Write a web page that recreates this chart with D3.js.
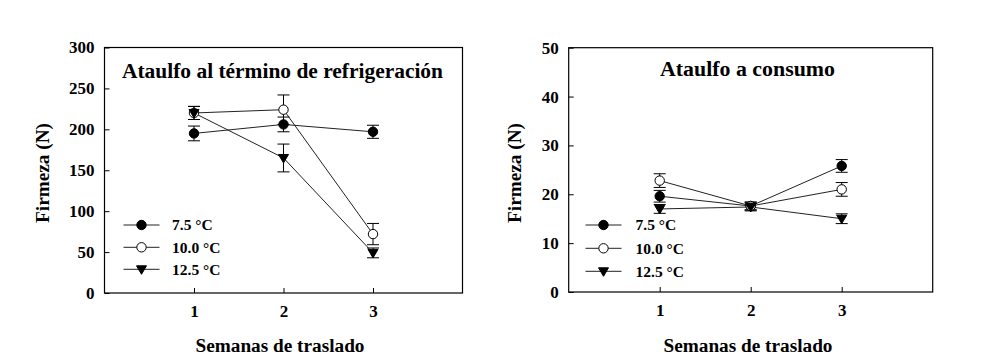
<!DOCTYPE html>
<html><head><meta charset="utf-8">
<script src="https://cdn.jsdelivr.net/npm/d3@7"></script>
<style>
html,body{margin:0;padding:0;background:#fff;}
svg{display:block;}
text{font-family:"Liberation Serif","Times New Roman",serif;font-weight:bold;fill:#000;}
</style></head>
<body>
<svg id="chart" width="984" height="357"></svg>
<script>
// ---- data ----
const weeks = [1, 2, 3];
const xTickLabels = ["1", "2", "3"];
const seriesNames = ["7.5 °C", "10.0 °C", "12.5 °C"];
const seriesMarkers = ["filled", "open", "triangle"];

// Left panel: Ataulfo al término de refrigeración
const leftTitle = "Ataulfo al término de refrigeración";
const leftYTicks = [0, 50, 100, 150, 200, 250, 300];
const left75 = [195, 206, 197];
const left75Err = [9, 9, 8];
const left10 = [220, 224, 72];
const left10Err = [8, 18, 13];
const left125 = [220, 165, 49];
const left125Err = [8, 17, 6];

// Right panel: Ataulfo a consumo
const rightTitle = "Ataulfo a consumo";
const rightYTicks = [0, 10, 20, 30, 40, 50];
const right75 = [19.6, 17.6, 25.8];
const right75Err = [1.2, 0.8, 1.3];
const right10 = [22.8, 17.6, 21.0];
const right10Err = [1.4, 0.8, 1.4];
const right125 = [17.0, 17.4, 15.0];
const right125Err = [0.9, 0.8, 1.0];

const yTitle = "Firmeza (N)";
const xTitle = "Semanas de traslado";

const svg = d3.select("#chart");

function drawPanel(cfg) {
  const x = d3.scaleLinear().domain([0, 4]).range([cfg.x0, cfg.x1]);
  const y = d3.scaleLinear().domain([0, cfg.yMax]).range([cfg.yBottom, cfg.yTop]);
  const g = svg.append("g");

  // axes (ticks inward)
  const ya = g.append("g").attr("transform", `translate(${cfg.x0},0)`)
    .call(d3.axisLeft(y).tickValues(cfg.yTicks).tickSize(-5).tickPadding(10));
  const xa = g.append("g").attr("transform", `translate(0,${cfg.yBottom})`)
    .call(d3.axisBottom(x).tickValues(weeks).tickFormat((d, i) => xTickLabels[i]).tickSize(-5).tickPadding(12));
  [ya, xa].forEach(a => {
    a.select(".domain").remove();
    a.selectAll(".tick line").attr("stroke", "#000").attr("stroke-width", 1);
    a.selectAll("text").attr("font-family", "Liberation Serif").attr("font-weight", "bold")
      .attr("font-size", 17).attr("fill", "#000");
  });

  // frame
  g.append("rect").attr("x", cfg.x0).attr("y", cfg.yTop)
    .attr("width", cfg.x1 - cfg.x0).attr("height", cfg.yBottom - cfg.yTop)
    .attr("fill", "none").attr("stroke", "#000").attr("stroke-width", 1.2);

  // title
  g.append("text").attr("x", cfg.titleX).attr("y", cfg.titleY)
    .attr("text-anchor", "middle").attr("font-size", 20)
    .attr("textLength", cfg.titleLen).attr("lengthAdjust", "spacingAndGlyphs")
    .text(cfg.title);

  // axis titles
  g.append("text").attr("x", cfg.xTitleX).attr("y", 352)
    .attr("text-anchor", "middle").attr("font-size", 18)
    .attr("textLength", 169).attr("lengthAdjust", "spacingAndGlyphs")
    .text(xTitle);
  g.append("text").attr("transform", `translate(${cfg.yTitleX},173) rotate(-90)`)
    .attr("text-anchor", "middle").attr("font-size", 18)
    .attr("textLength", 100).attr("lengthAdjust", "spacingAndGlyphs")
    .text(yTitle);

  const line = d3.line().x((d, i) => x(weeks[i])).y(d => y(d));

  // lines
  cfg.series.forEach(s => {
    g.append("path").datum(s.mean).attr("d", line)
      .attr("fill", "none").attr("stroke", "#222").attr("stroke-width", 1);
  });

  // error bars + markers per series
  cfg.series.forEach((s, si) => {
    const eg = g.append("g").attr("stroke", "#000").attr("stroke-width", 1);
    s.mean.forEach((m, i) => {
      const cx = x(weeks[i]);
      const yHi = y(m + s.err[i]), yLo = y(m - s.err[i]);
      eg.append("line").attr("x1", cx).attr("x2", cx).attr("y1", yHi).attr("y2", yLo);
      eg.append("line").attr("x1", cx - 6).attr("x2", cx + 6).attr("y1", yHi).attr("y2", yHi);
      eg.append("line").attr("x1", cx - 6).attr("x2", cx + 6).attr("y1", yLo).attr("y2", yLo);
    });
    s.mean.forEach((m, i) => {
      drawMarker(g, seriesMarkers[si], x(weeks[i]), y(m));
    });
  });

  // legend
  cfg.legendY.forEach((ly, i) => {
    g.append("line").attr("x1", cfg.legendX - 18).attr("x2", cfg.legendX + 18)
      .attr("y1", ly).attr("y2", ly).attr("stroke", "#222").attr("stroke-width", 1);
    drawMarker(g, seriesMarkers[i], cfg.legendX, ly);
    g.append("text").attr("x", cfg.legendTextX).attr("y", ly).attr("dy", "0.35em")
      .attr("font-size", 15.5).text(seriesNames[i]);
  });
}

function drawMarker(g, type, cx, cy) {
  if (type === "triangle") {
    g.append("path").attr("d", `M${cx - 5},${cy - 3.5}L${cx + 5},${cy - 3.5}L${cx},${cy + 5}Z`)
      .attr("fill", "#000").attr("stroke", "#000").attr("stroke-width", 1);
  } else {
    g.append("circle").attr("cx", cx).attr("cy", cy).attr("r", 4.7)
      .attr("fill", type === "filled" ? "#000" : "#fff").attr("stroke", "#000").attr("stroke-width", 1);
  }
}

drawPanel({
  x0: 104.5, x1: 462.5, yTop: 47.5, yBottom: 293, yMax: 300, yTicks: leftYTicks,
  title: leftTitle, titleX: 282.5, titleY: 78, titleLen: 321,
  xTitleX: 280, yTitleX: 49,
  series: [
    {mean: left75, err: left75Err},
    {mean: left10, err: left10Err},
    {mean: left125, err: left125Err}
  ],
  legendX: 141.5, legendTextX: 172, legendY: [225, 247.3, 269.3]
});

drawPanel({
  x0: 568.7, x1: 932.7, yTop: 47.7, yBottom: 292, yMax: 50, yTicks: rightYTicks,
  title: rightTitle, titleX: 747.5, titleY: 76, titleLen: 175,
  xTitleX: 748, yTitleX: 521,
  series: [
    {mean: right75, err: right75Err},
    {mean: right10, err: right10Err},
    {mean: right125, err: right125Err}
  ],
  legendX: 603.5, legendTextX: 635.5, legendY: [225, 248.3, 271.3]
});
</script>
</body></html>
